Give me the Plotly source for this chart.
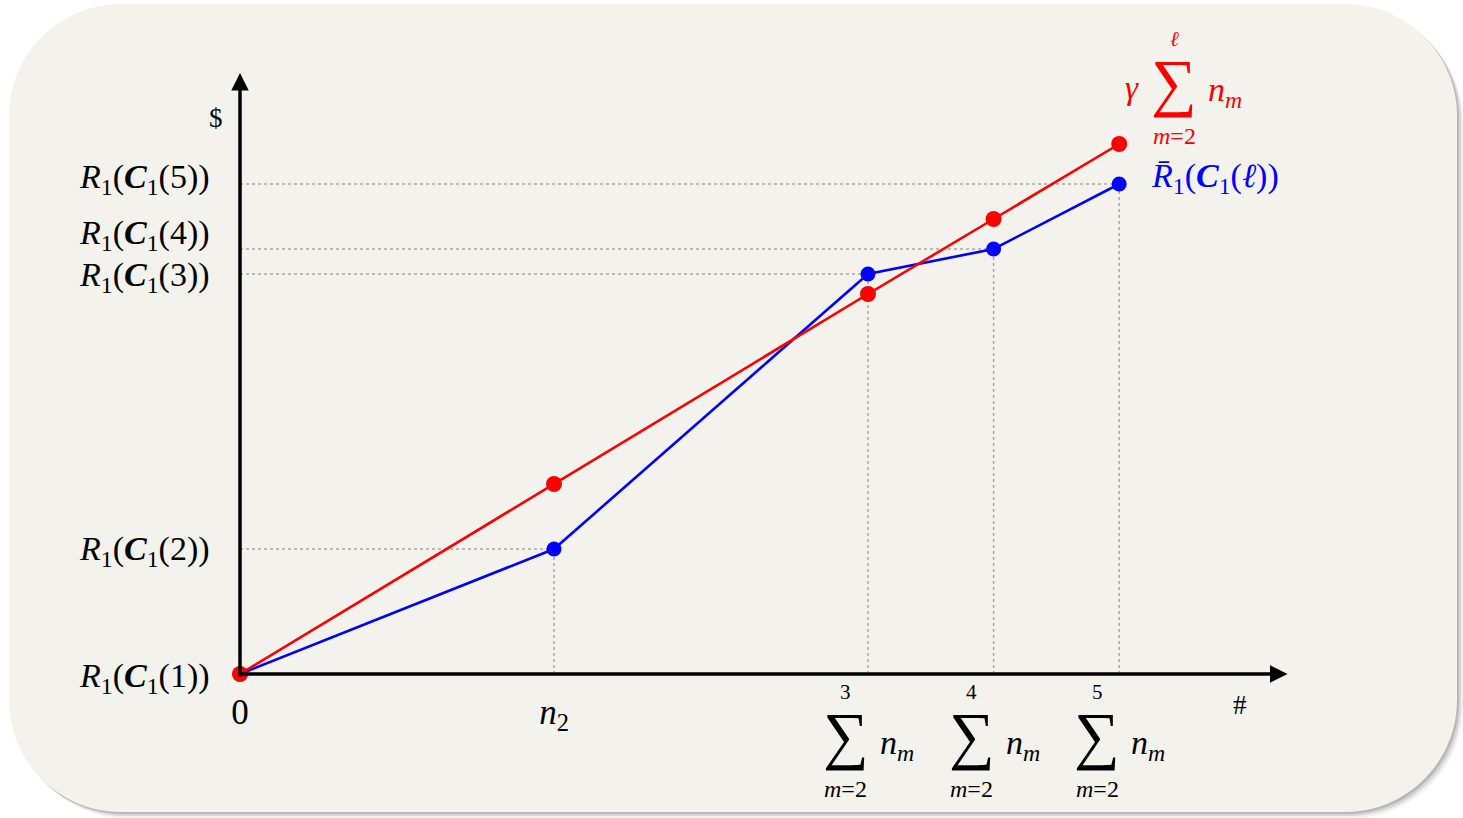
import plotly.graph_objects as go

# ---- data -------------------------------------------------------------
x_pos = [0, 2.5, 5, 6, 7]                 # 0, n2, sum_{m=2}^{3..5} n_m
blue_vals = [0, 2.5, 8.0, 8.5, 9.8]       # R1(C1(l))
red_vals = [0, 3.8, 7.6, 9.1, 10.6]       # gamma * sum n_m

y_tick_text = [
    "<i>R</i><sub>1</sub>(<b><i>C</i></b><sub>1</sub>(1))",
    "<i>R</i><sub>1</sub>(<b><i>C</i></b><sub>1</sub>(2))",
    "<i>R</i><sub>1</sub>(<b><i>C</i></b><sub>1</sub>(3))",
    "<i>R</i><sub>1</sub>(<b><i>C</i></b><sub>1</sub>(4))",
    "<i>R</i><sub>1</sub>(<b><i>C</i></b><sub>1</sub>(5))",
]
x_tick_text = ["0", "<i>n</i><sub>2</sub>", "", "", ""]
sum_upper = ["3", "4", "5"]

# vertical nudges (px) so the close R1(C1(3)) / R1(C1(4)) labels don't collide
y_label_nudge = [-4, -2, -3, 14, 5]

# ---- geometry ---------------------------------------------------------
W, H = 1463, 818
ML, MR, MT, MB = 240, 173, 70, 144
PW, PH = W - ML - MR, H - MT - MB
X_RANGE = [0, 8.36]
Y_RANGE = [0, 12.08]
FAM = "Liberation Serif"
RED, BLUE = "#ff0000", "#0000ff"


def to_paper(px, py):
    return (px - ML) / PW, (H - MB - py) / PH


def rounded_rect(x0, y0, x1, y1, r):
    k = 0.5523 * r

    def p(x, y):
        X, Y = to_paper(x, y)
        return f"{X:.5f},{Y:.5f}"

    pts = [
        f"M{p(x0 + r, y0)}",
        f"L{p(x1 - r, y0)}",
        f"C{p(x1 - r + k, y0)} {p(x1, y0 + r - k)} {p(x1, y0 + r)}",
        f"L{p(x1, y1 - r)}",
        f"C{p(x1, y1 - r + k)} {p(x1 - r + k, y1)} {p(x1 - r, y1)}",
        f"L{p(x0 + r, y1)}",
        f"C{p(x0 + r - k, y1)} {p(x0, y1 - r + k)} {p(x0, y1 - r)}",
        f"L{p(x0, y0 + r)}",
        f"C{p(x0, y0 + r - k)} {p(x0 + r - k, y0)} {p(x0 + r, y0)}",
    ]
    return " ".join(pts) + " Z"


shapes = []
# soft drop shadow + panel
for dx, dy, a in [(6, 6, 0.06), (4, 4, 0.10), (2, 2, 0.14)]:
    shapes.append(dict(type="path", xref="paper", yref="paper", layer="below",
                       path=rounded_rect(9 + dx, 4 + dy, 1457 + dx, 812 + dy, 112),
                       fillcolor=f"rgba(0,0,0,{a})", line=dict(width=0)))
shapes.append(dict(type="path", xref="paper", yref="paper", layer="below",
                   path=rounded_rect(9, 4, 1457, 812, 112),
                   fillcolor="#f4f2ec", line=dict(width=0)))

# dotted guides from each blue point to both axes
guide = dict(color="#a6a6a6", width=1.5, dash="dot")
for xv, yv in zip(x_pos[1:], blue_vals[1:]):
    shapes.append(dict(type="line", xref="x", yref="y", layer="below",
                       x0=0, x1=xv, y0=yv, y1=yv, line=guide))
    shapes.append(dict(type="line", xref="x", yref="y", layer="below",
                       x0=xv, x1=xv, y0=0, y1=yv, line=guide))

fig = go.Figure()
fig.add_trace(go.Scatter(x=x_pos, y=blue_vals, mode="lines+markers",
                         line=dict(color=BLUE, width=2.6),
                         marker=dict(color=BLUE, size=15), cliponaxis=False))
fig.add_trace(go.Scatter(x=x_pos, y=red_vals, mode="lines+markers",
                         line=dict(color=RED, width=2.6),
                         marker=dict(color=RED, size=16), cliponaxis=False))

ann = []
# axis arrows
ann.append(dict(x=8.34, y=0, ax=-0.02, ay=0, xref="x", yref="y", axref="x", ayref="y",
                text="", showarrow=True, arrowhead=2, arrowsize=1.0,
                arrowwidth=3.5, arrowcolor="black", standoff=0))
ann.append(dict(x=0, y=12.02, ax=0, ay=-0.08, xref="x", yref="y", axref="x", ayref="y",
                text="", showarrow=True, arrowhead=2, arrowsize=1.0,
                arrowwidth=3.5, arrowcolor="black", standoff=0))


def txt(x, y, text, size, color="black", xshift=0, yshift=0, xanchor="center",
        xref="x", yref="y"):
    ann.append(dict(x=x, y=y, xref=xref, yref=yref, text=text, showarrow=False,
                    xanchor=xanchor, yanchor="middle", xshift=xshift, yshift=yshift,
                    font=dict(family=FAM, size=size, color=color)))


def sigma_block(x, y, upper, color, dx, dy, pre=None):
    # summation sign with its limits, followed by n_m
    txt(x, y, upper, 21, color, dx, dy + 50)
    txt(x, y, "∑", 64, color, dx, dy + 7)
    txt(x, y, "<i>m</i>=2", 24, color, dx, dy - 47)
    txt(x, y, "<i>n</i><sub><i>m</i></sub>", 34, color, dx + 32, dy - 3, "left")
    if pre:
        txt(x, y, pre, 33, color, dx - 42, dy + 1)


# y-axis value labels
for yv, lab, nudge in zip(blue_vals, y_tick_text, y_label_nudge):
    txt(0, yv, lab, 34, "black", -28, nudge, "right")

# x-axis summation labels
for xv, up in zip(x_pos[2:], sum_upper):
    sigma_block(xv, 0, up, "black", -22, -68)

# series labels
sigma_block(x_pos[-1], red_vals[-1], "<i>ℓ</i>", RED, 55, 55, pre="<i>γ</i>")
txt(x_pos[-1], blue_vals[-1],
    "<i>R̄</i><sub>1</sub>(<b><i>C</i></b><sub>1</sub>(<i>ℓ</i>))",
    34, BLUE, 30, 6, "left")

# axis names
px, py = to_paper(216, 118)
txt(px, py, "$", 27, xref="paper", yref="paper")
px, py = to_paper(1240, 705)
txt(px, py, "#", 27, xref="paper", yref="paper")

fig.update_layout(
    width=W, height=H,
    margin=dict(l=ML, r=MR, t=MT, b=MB, pad=0),
    paper_bgcolor="white", plot_bgcolor="rgba(0,0,0,0)",
    showlegend=False, shapes=shapes, annotations=ann,
    xaxis=dict(range=X_RANGE, showgrid=False, zeroline=False, showline=False,
               tickvals=x_pos, ticktext=x_tick_text, ticks="",
               ticklabelstandoff=14,
               tickfont=dict(family=FAM, size=35, color="black")),
    yaxis=dict(range=Y_RANGE, showgrid=False, zeroline=False, showline=False,
               showticklabels=False, ticks=""),
)

fig.write_html("out.html")
